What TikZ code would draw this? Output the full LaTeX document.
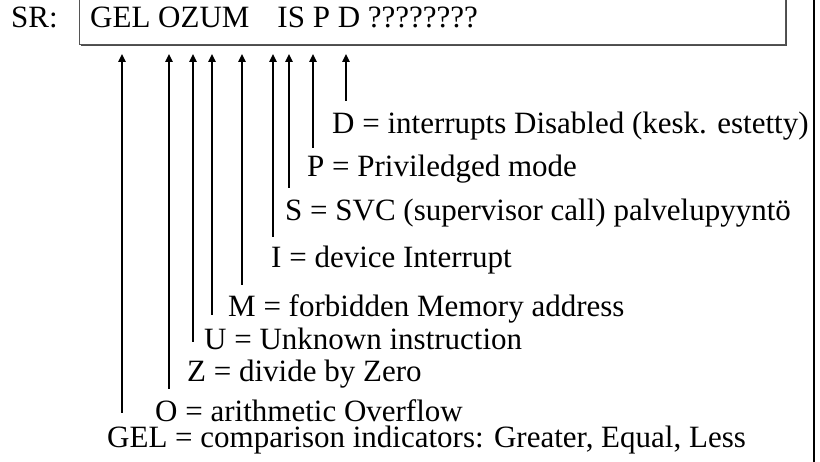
\documentclass[tikz,border=0pt]{standalone}
\usepackage{fontspec}
\setmainfont{Liberation Serif}
\usepackage{tikz}
\usetikzlibrary{arrows.meta,shadows}
\definecolor{framegray}{HTML}{555555}
\tikzset{
  regbox/.style={draw=framegray, line width=0.8pt, fill=white, drop shadow={shadow xshift=1.2pt, shadow yshift=-1.2pt, fill=black!70, opacity=1}},
  flaglabel/.style={anchor=base west, inner sep=0pt},
  bitarrow/.style={-{Triangle[length=8pt,width=7pt]}, line width=2.2pt, shorten >=9pt}
}
\begin{document}
\begin{tikzpicture}[x=1pt,y=-1pt,font=\fontsize{31}{34}\selectfont]
  \useasboundingbox (0,0) rectangle (820,462);
  \node[regbox, anchor=north west, minimum width=706pt, minimum height=59pt] (reg) at (79,-15) {};
  \node[flaglabel] (sr) at (11,28) {SR:};
  \node[flaglabel] (bits) at (90,28) {GEL OZUM\hspace{28pt}IS P D ????????};
  \coordinate (railtop) at (814,0);
  \coordinate (railbot) at (814,462);
  \draw[line width=2.5pt] (railtop) -- (railbot);

  \foreach \fx/\fy/\lx/\ly/\fname/\ftext in {
    346/101/332/134/dis/{D = interrupts Disabled (kesk. estetty)},
    313/148/307/177/priv/{P = Priviledged mode},
    289/188/285/221/svc/{S = SVC (supervisor call) palvelupyyntö},
    273/237/271/268/intr/{I = device Interrupt},
    242/285/228/317/mem/{M = forbidden Memory address},
    212/315/204/350/unk/{U = Unknown instruction},
    193/342/187/382/zero/{Z = divide by Zero},
    169/389/155/422/ovf/{O = arithmetic Overflow},
    122/413/107/447/gel/{GEL = comparison indicators: Greater, Equal, Less}}
  {
    \node[flaglabel] (\fname) at (\lx,\ly) {\ftext};
    \coordinate (\fname foot) at (\fx,\fy);
    \draw[bitarrow] (\fname foot) -- (\fname foot |- reg.south);
  }
\end{tikzpicture}
\end{document}
